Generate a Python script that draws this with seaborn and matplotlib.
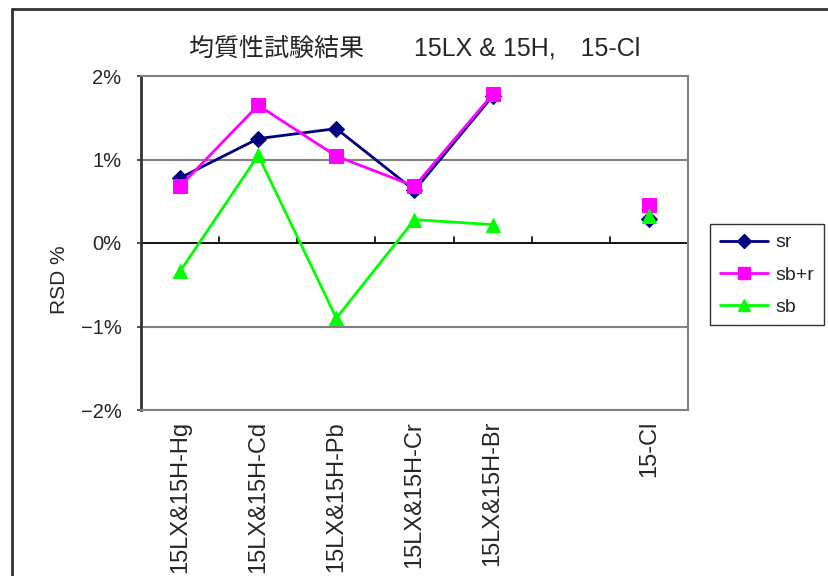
import numpy as np
import pandas as pd
import matplotlib
matplotlib.use("Agg")
import matplotlib.pyplot as plt
from matplotlib.lines import Line2D
import seaborn as sns

# Categories (the sixth slot is intentionally blank)
categories = ["15LX&15H-Hg", "15LX&15H-Cd", "15LX&15H-Pb", "15LX&15H-Cr",
              "15LX&15H-Br", "", "15-Cl"]

# RSD values in percent (NaN = no measurement)
sr = [0.78, 1.25, 1.37, 0.63, 1.76, np.nan, 0.29]
sb_r = [0.68, 1.65, 1.04, 0.68, 1.78, np.nan, 0.45]
sb = [-0.34, 1.05, -0.90, 0.28, 0.22, np.nan, 0.32]

series_names = ["sr", "sb+r", "sb"]
y_ticks = [2, 1, 0, -1, -2]
y_tick_labels = ["2%", "1%", "0%", "\u22121%", "\u22122%"]

title = "均質性試験結果\u3000\u300015LX & 15H,\u300015-Cl"

sns.set_theme(style="white")
plt.rcParams["font.family"] = ["Liberation Sans", "Noto Sans CJK JP", "DejaVu Sans"]

styles = {
    "sr": dict(color="#000080", marker="D", markersize=8),
    "sb+r": dict(color="#FF00FF", marker="s", markersize=10),
    "sb": dict(color="#00FF00", marker="^", markersize=10),
}

rows = []
for name, vals in zip(series_names, [sr, sb_r, sb]):
    for i, v in enumerate(vals):
        # Points after the blank slot form their own segment
        seg = 0 if i < 5 else 1
        rows.append(dict(series=name, pos=i, value=v, seg=seg))
df = pd.DataFrame(rows).dropna()

fig = plt.figure(figsize=(8.29, 5.76), dpi=100)
ax = fig.add_axes([141 / 829, 1 - 410 / 576, (688 - 141) / 829, (410 - 76) / 576])

for name in series_names:
    st = styles[name]
    for seg, part in df[df.series == name].groupby("seg"):
        sns.lineplot(data=part, x="pos", y="value", ax=ax, color=st["color"],
                     marker=st["marker"], markersize=st["markersize"],
                     markeredgecolor=st["color"], linewidth=2,
                     estimator=None, sort=False, legend=False)

ax.set_xlim(-0.5, len(categories) - 0.5)
ax.set_ylim(-2, 2)

# gridlines and zero axis
for yv in (1, -1):
    ax.axhline(yv, color="#808080", linewidth=1.5, zorder=0)
ax.axhline(0, color="#000000", linewidth=1.3, zorder=1)
tick_tr = ax.get_xaxis_transform()
for b in np.arange(0.5, len(categories), 1.0):
    ax.plot([b, b], [0.5, 0.518], transform=tick_tr, color="black",
            linewidth=1.2, zorder=1, clip_on=False)

ax.set_yticks(y_ticks)
ax.set_yticklabels(y_tick_labels, fontsize=14.5)
ax.set_xticks(range(len(categories)))
ax.set_xticklabels(categories, rotation=90, fontsize=17, va="top")
ax.tick_params(axis="x", length=0, pad=8)
ax.tick_params(axis="y", left=True, length=3, width=1.2, color="#333333", pad=11)
ax.set_xlabel("")
ax.set_ylabel("")

for side in ("top", "right", "bottom"):
    ax.spines[side].set_color("#808080")
    ax.spines[side].set_linewidth(1.5)
ax.spines["left"].set_color("#333333")
ax.spines["left"].set_linewidth(2)

fig.text(60 / 829, 1 - 280 / 576, "RSD %", rotation=90, fontsize=15,
         ha="center", va="center")
fig.text(415 / 829, 1 - 48 / 576, title, fontsize=18, ha="center", va="center")

handles = [Line2D([0], [0], color=styles[n]["color"], marker=styles[n]["marker"],
                  markersize=styles[n]["markersize"] * 0.9, linewidth=2)
           for n in series_names]
leg = fig.legend(handles, series_names, loc="upper left",
                 bbox_to_anchor=(710 / 829, 1 - 224 / 576), fontsize=14,
                 frameon=True, fancybox=False, handlelength=2.5,
                 borderpad=0.5, labelspacing=0.75, handletextpad=0.35,
                 borderaxespad=0)
leg.get_frame().set_edgecolor("black")
leg.get_frame().set_linewidth(1.0)

# chart area border (top and left edges)
fig.add_artist(Line2D([12 / 829, 1], [1 - 9 / 576, 1 - 9 / 576],
                      transform=fig.transFigure, color="#333333", linewidth=2))
fig.add_artist(Line2D([12 / 829, 12 / 829], [0, 1 - 9 / 576],
                      transform=fig.transFigure, color="#333333", linewidth=2))

fig.savefig("out.png", dpi=100, facecolor="white")
